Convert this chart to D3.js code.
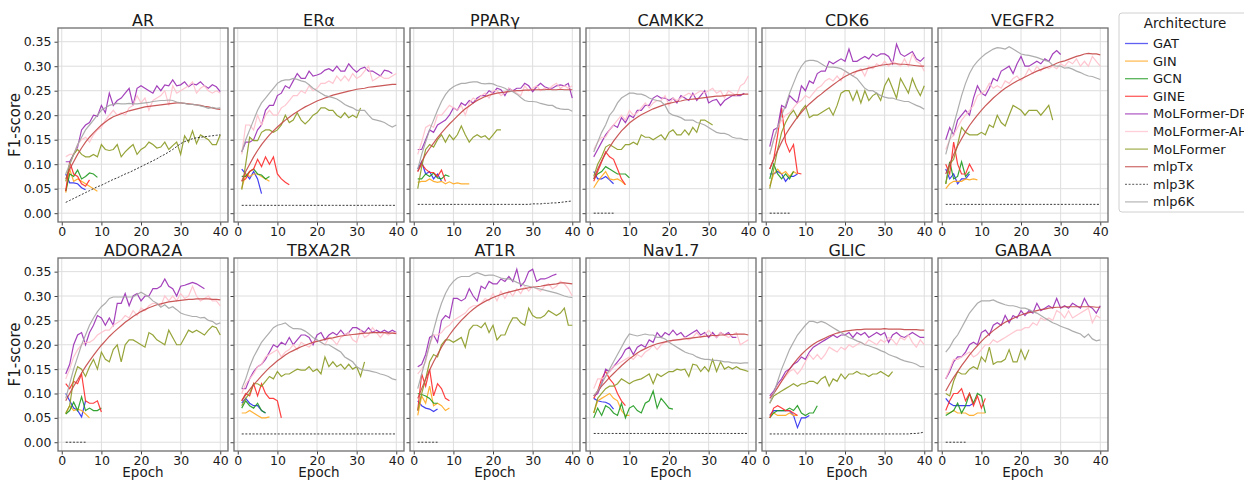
<!DOCTYPE html>
<html>
<head>
<meta charset="utf-8">
<script src="https://cdn.jsdelivr.net/npm/d3@7"></script>
<style>
  body { margin: 0; background: #fff; }
  text { font-family: "DejaVu Sans", sans-serif; fill: #1a1a1a; }
</style>
</head>
<body>
<div id="chart"></div>
<script>
// --------- DATA ---------
// one sub-array per target, values are F1-score per epoch starting at epoch 1

const targets = ["AR", "ERα", "PPARγ", "CAMKK2", "CDK6", "VEGFR2",
                 "ADORA2A", "TBXA2R", "AT1R", "Nav1.7", "GLIC", "GABAA"];
const architectures = ["GAT", "GIN", "GCN", "GINE", "MoLFormer-DR", "MoLFormer-AH",
                       "MoLFormer", "mlpTx", "mlp3K", "mlp6K"];
const xTicks = [0, 10, 20, 30, 40];
const yTicks = [0, 0.05, 0.10, 0.15, 0.20, 0.25, 0.30, 0.35];

const GAT = [
  [0.08,0.062,0.062,0.06,0.052,0.048],
  [0.09,0.08,0.07,0.085,0.07,0.04],
  [0.09,0.105,0.08,0.085,0.07,0.08,0.065],
  [0.085,0.07,0.07,0.075,0.068,0.06],
  [0.08,0.08,0.085,0.08,0.065,0.075,0.075,0.08],
  [0.09,0.07,0.08,0.06,0.07,0.07,0.08],
  [0.1,0.085,0.07,0.065,0.052,0.085],
  [0.08,0.09,0.08,0.075,0.075,0.065,0.06],
  [0.085,0.075,0.07,0.068,0.063,0.068],
  [0.09,0.085,0.083,0.082,0.078,0.068],
  [0.055,0.065,0.065,0.065,0.065,0.065,0.055,0.03,0.05,0.05,0.055],
  [0.09,0.08,0.075,0.075,0.075,0.075,0.075,0.08]
];

const GIN = [
  [0.042,0.09,0.065,0.07,0.065,0.06,0.055,0.05,0.045],
  [0.05,0.08,0.075,0.08,0.08,0.075,0.07,0.065],
  [0.063,0.065,0.065,0.07,0.065,0.063,0.065,0.06,0.064,0.06,0.062,0.06,0.06,0.06],
  [0.052,0.065,0.075,0.085,0.07,0.068,0.07,0.065,0.058],
  [0.055,0.08,0.09,0.08,0.085,0.075,0.085,0.08],
  [0.05,0.06,0.065,0.065,0.065,0.07,0.068,0.07,0.068],
  [0.058,0.075,0.065,0.068,0.065,0.058,0.05],
  [0.06,0.06,0.065,0.06,0.055,0.05,0.05,0.052],
  [0.055,0.095,0.08,0.115,0.075,0.08,0.075,0.065,0.07],
  [0.06,0.085,0.09,0.095,0.1,0.09,0.085,0.065,0.055,0.055],
  [0.055,0.06,0.055,0.055,0.055,0.06,0.055,0.055],
  [0.06,0.06,0.065,0.06,0.06,0.06,0.055,0.055,0.06,0.06,0.06]
];

const GCN = [
  [0.045,0.08,0.075,0.088,0.07,0.075,0.082,0.08,0.073],
  [0.075,0.075,0.085,0.09,0.08,0.078,0.07,0.075],
  [0.07,0.07,0.08,0.075,0.082,0.072,0.07,0.078,0.075],
  [0.07,0.08,0.085,0.095,0.09,0.085,0.08,0.08,0.08,0.072],
  [0.07,0.1,0.08,0.07,0.08,0.07,0.085],
  [0.06,0.105,0.07,0.075,0.105,0.075,0.085],
  [0.058,0.065,0.082,0.065,0.093,0.065,0.07,0.065,0.065,0.07],
  [0.07,0.085,0.075,0.07,0.08,0.065,0.06],
  [0.1,0.098,0.095,0.09,0.08,0.08],
  [0.05,0.07,0.055,0.075,0.07,0.06,0.055,0.08,0.05,0.07,0.075,0.065,0.06,0.08,0.085,0.105,0.07,0.09,0.08,0.07,0.068],
  [0.05,0.06,0.065,0.065,0.065,0.07,0.065,0.075,0.06,0.055,0.06,0.06,0.075],
  [0.055,0.06,0.065,0.08,0.06,0.075,0.1,0.08,0.1,0.095,0.06]
];

const GINE = [
  [0.045,0.105,0.08,0.075,0.06,0.055,0.068],
  [0.065,0.07,0.085,0.09,0.11,0.095,0.115,0.1,0.115,0.08,0.07,0.063,0.058],
  [0.085,0.1,0.09,0.083,0.083,0.075,0.088,0.065],
  [0.065,0.085,0.105,0.125,0.115,0.11,0.09,0.07,0.058],
  [0.09,0.11,0.16,0.215,0.145,0.125,0.14,0.082,0.08],
  [0.1,0.08,0.145,0.1,0.08,0.08,0.1,0.085],
  [0.12,0.11,0.125,0.12,0.14,0.085,0.08,0.08,0.085,0.062],
  [0.085,0.1,0.095,0.12,0.095,0.12,0.1,0.09,0.09,0.085,0.05],
  [0.065,0.14,0.115,0.15,0.095,0.12,0.11,0.09,0.085],
  [0.09,0.105,0.13,0.145,0.13,0.12,0.1,0.085,0.075],
  [0.05,0.07,0.075,0.07,0.065,0.065,0.06,0.055],
  [0.065,0.085,0.1,0.1,0.11,0.085,0.1,0.075,0.095,0.07,0.09]
];

const molDR = [
  [0.105,0.105,0.12,0.135,0.17,0.18,0.185,0.2,0.198,0.22,0.205,0.245,0.22,0.23,0.235,0.245,0.255,0.22,0.255,0.26,
   0.255,0.25,0.245,0.26,0.25,0.262,0.26,0.272,0.26,0.262,0.268,0.258,0.264,0.262,0.268,0.26,0.255,0.262,0.258,0.248],
  [0.125,0.145,0.145,0.15,0.17,0.18,0.21,0.22,0.22,0.24,0.245,0.26,0.255,0.27,0.285,0.275,0.275,0.29,0.28,0.282,
   0.285,0.292,0.295,0.29,0.3,0.29,0.29,0.305,0.295,0.288,0.295,0.298,0.29,0.29,0.285,0.28,0.292,0.29,0.285],
  [0.13,0.13,0.15,0.17,0.165,0.18,0.185,0.19,0.2,0.215,0.21,0.225,0.22,0.23,0.225,0.235,0.24,0.24,0.25,0.245,
   0.255,0.252,0.24,0.255,0.25,0.255,0.255,0.265,0.26,0.248,0.258,0.265,0.258,0.255,0.255,0.26,0.262,0.26,0.265,0.235],
  [0.115,0.13,0.145,0.16,0.17,0.18,0.175,0.195,0.185,0.2,0.195,0.21,0.21,0.22,0.22,0.235,0.24,0.235,0.235,0.23,
   0.235,0.225,0.24,0.235,0.23,0.245,0.23,0.24,0.25,0.225,0.23,0.232,0.22,0.23,0.235,0.24,0.24,0.24,0.245],
  [0.136,0.17,0.175,0.22,0.215,0.24,0.232,0.225,0.26,0.25,0.27,0.265,0.285,0.29,0.29,0.31,0.305,0.31,0.315,0.31,
   0.335,0.31,0.31,0.315,0.32,0.315,0.325,0.32,0.325,0.325,0.32,0.305,0.345,0.325,0.32,0.325,0.33,0.315,0.31,0.318],
  [0.15,0.175,0.16,0.19,0.2,0.21,0.2,0.235,0.26,0.245,0.24,0.255,0.275,0.27,0.29,0.295,0.3,0.285,0.305,0.32,
   0.3,0.3,0.305,0.31,0.305,0.315,0.31,0.325,0.332,0.324],
  [0.14,0.16,0.2,0.22,0.225,0.2,0.225,0.24,0.26,0.255,0.24,0.255,0.24,0.285,0.285,0.305,0.28,0.3,0.305,0.29,
   0.3,0.3,0.315,0.315,0.32,0.335,0.32,0.315,0.3,0.32,0.322,0.325,0.328,0.325,0.32,0.315],
  [0.11,0.11,0.13,0.145,0.155,0.16,0.17,0.185,0.2,0.195,0.205,0.2,0.215,0.2,0.21,0.22,0.22,0.215,0.2,0.22,
   0.225,0.21,0.22,0.225,0.22,0.23,0.22,0.225,0.235,0.235,0.23,0.225,0.235,0.225,0.23,0.225,0.23,0.225,0.23,0.225],
  [0.155,0.16,0.18,0.215,0.22,0.205,0.25,0.26,0.255,0.295,0.295,0.29,0.295,0.315,0.3,0.29,0.32,0.315,0.33,0.325,
   0.325,0.335,0.33,0.34,0.33,0.355,0.32,0.33,0.35,0.355,0.33,0.335,0.335,0.338,0.342,0.345],
  [0.095,0.1,0.12,0.15,0.145,0.155,0.165,0.175,0.19,0.195,0.18,0.195,0.2,0.195,0.21,0.205,0.225,0.215,0.225,0.22,
   0.23,0.22,0.225,0.215,0.22,0.225,0.23,0.22,0.225,0.215,0.225,0.215,0.225,0.22,0.225,0.215,0.215],
  [0.095,0.105,0.12,0.13,0.145,0.15,0.16,0.165,0.175,0.17,0.185,0.195,0.2,0.205,0.21,0.215,0.22,0.215,0.22,0.22,
   0.225,0.215,0.225,0.22,0.225,0.215,0.22,0.225,0.22,0.225,0.205,0.22,0.225,0.218,0.215,0.22,0.225,0.22,0.215,0.215],
  [0.13,0.145,0.165,0.175,0.175,0.185,0.2,0.205,0.2,0.225,0.23,0.22,0.24,0.245,0.24,0.26,0.245,0.26,0.255,0.27,
   0.26,0.27,0.265,0.285,0.27,0.275,0.28,0.275,0.295,0.275,0.28,0.275,0.285,0.28,0.275,0.295,0.28,0.275,0.265,0.28]
];

const molAH = [
  [0.115,0.12,0.12,0.14,0.15,0.155,0.145,0.16,0.17,0.175,0.19,0.2,0.21,0.2,0.205,0.2,0.215,0.22,0.24,0.225,
   0.235,0.21,0.23,0.235,0.24,0.25,0.22,0.26,0.245,0.25,0.255,0.26,0.268,0.245,0.255,0.26,0.25,0.245,0.25,0.245],
  [0.12,0.18,0.18,0.17,0.2,0.18,0.2,0.21,0.2,0.2,0.215,0.22,0.23,0.24,0.24,0.25,0.245,0.26,0.25,0.255,
   0.265,0.265,0.27,0.265,0.28,0.27,0.28,0.27,0.285,0.275,0.28,0.29,0.3,0.27,0.275,0.28,0.275,0.275,0.28,0.285],
  [0.12,0.145,0.175,0.18,0.175,0.2,0.2,0.21,0.22,0.215,0.21,0.22,0.2,0.225,0.235,0.23,0.24,0.245,0.235,0.25,
   0.25,0.24,0.245,0.255,0.25,0.245,0.24,0.26,0.25,0.255,0.26,0.25,0.255,0.252,0.26,0.265,0.255,0.26,0.255,0.26],
  [0.13,0.145,0.155,0.155,0.17,0.18,0.19,0.2,0.19,0.21,0.2,0.205,0.215,0.225,0.215,0.225,0.23,0.23,0.24,0.22,
   0.235,0.23,0.235,0.24,0.245,0.24,0.245,0.25,0.245,0.25,0.255,0.245,0.25,0.235,0.25,0.245,0.24,0.26,0.265,0.28],
  [0.12,0.15,0.175,0.19,0.2,0.205,0.215,0.225,0.23,0.24,0.235,0.245,0.255,0.26,0.27,0.275,0.27,0.28,0.27,0.29,
   0.285,0.28,0.29,0.295,0.28,0.3,0.295,0.305,0.3,0.31,0.3,0.31,0.305,0.3,0.315,0.3,0.325,0.31,0.305,0.29],
  [0.13,0.15,0.16,0.175,0.19,0.2,0.21,0.22,0.24,0.245,0.25,0.265,0.255,0.26,0.255,0.27,0.265,0.275,0.28,0.27,
   0.28,0.295,0.285,0.3,0.29,0.3,0.295,0.3,0.295,0.305,0.3,0.31,0.305,0.315,0.3,0.31,0.3,0.32,0.31,0.3],
  [0.13,0.15,0.175,0.19,0.2,0.205,0.205,0.21,0.22,0.225,0.23,0.23,0.24,0.245,0.25,0.26,0.255,0.27,0.26,0.275,
   0.27,0.28,0.285,0.285,0.28,0.3,0.29,0.3,0.29,0.305,0.295,0.3,0.32,0.3,0.29,0.295,0.3,0.29,0.29,0.28],
  [0.1,0.12,0.13,0.14,0.155,0.16,0.175,0.18,0.185,0.19,0.175,0.185,0.19,0.2,0.19,0.205,0.2,0.195,0.205,0.21,
   0.205,0.2,0.215,0.21,0.2,0.215,0.22,0.225,0.21,0.205,0.23,0.215,0.22,0.235,0.225,0.215,0.225,0.22,0.225,0.225],
  [0.14,0.15,0.165,0.2,0.22,0.22,0.225,0.235,0.24,0.25,0.255,0.26,0.265,0.275,0.28,0.28,0.285,0.295,0.29,0.305,
   0.29,0.31,0.295,0.31,0.3,0.315,0.305,0.32,0.31,0.32,0.315,0.31,0.32,0.325,0.315,0.32,0.33,0.325,0.315,0.3],
  [0.11,0.13,0.13,0.135,0.145,0.155,0.16,0.165,0.17,0.175,0.17,0.18,0.175,0.185,0.19,0.2,0.19,0.2,0.205,0.205,
   0.21,0.21,0.21,0.215,0.21,0.215,0.225,0.215,0.22,0.23,0.22,0.215,0.225,0.22,0.215,0.22,0.225,0.2,0.205,0.21],
  [0.09,0.1,0.115,0.125,0.135,0.145,0.15,0.14,0.15,0.165,0.18,0.17,0.18,0.17,0.18,0.195,0.19,0.185,0.195,0.19,
   0.2,0.195,0.2,0.205,0.2,0.21,0.205,0.2,0.21,0.205,0.215,0.21,0.2,0.215,0.21,0.22,0.205,0.195,0.21,0.2],
  [0.13,0.15,0.17,0.17,0.175,0.18,0.185,0.175,0.18,0.19,0.2,0.2,0.21,0.205,0.21,0.215,0.22,0.225,0.23,0.23,
   0.235,0.235,0.245,0.24,0.255,0.25,0.255,0.25,0.27,0.265,0.255,0.27,0.255,0.26,0.265,0.27,0.275,0.245,0.26,0.255]
];

const molFormer = [
  [0.065,0.1,0.12,0.13,0.12,0.115,0.115,0.12,0.115,0.14,0.13,0.128,0.13,0.14,0.115,0.125,0.133,0.14,0.12,0.13,
   0.135,0.145,0.14,0.133,0.135,0.145,0.13,0.138,0.145,0.12,0.158,0.145,0.168,0.142,0.16,0.155,0.15,0.14,0.14,0.16],
  [0.048,0.1,0.155,0.148,0.148,0.165,0.17,0.17,0.165,0.17,0.18,0.2,0.185,0.19,0.205,0.19,0.182,0.19,0.2,0.205,
   0.215,0.215,0.21,0.21,0.2,0.195,0.205,0.195,0.2,0.195,0.215],
  [0.05,0.095,0.13,0.14,0.135,0.15,0.16,0.145,0.16,0.15,0.16,0.178,0.16,0.145,0.155,0.16,0.155,0.158,0.15,0.16,
   0.17,0.17],
  [0.075,0.1,0.115,0.135,0.14,0.135,0.13,0.13,0.14,0.14,0.145,0.14,0.16,0.155,0.155,0.15,0.155,0.16,0.15,0.165,
   0.17,0.16,0.16,0.17,0.16,0.175,0.165,0.19,0.19,0.185,0.18],
  [0.05,0.09,0.13,0.165,0.185,0.2,0.21,0.195,0.21,0.22,0.195,0.2,0.2,0.205,0.21,0.215,0.2,0.22,0.245,0.25,
   0.25,0.23,0.25,0.225,0.25,0.23,0.24,0.245,0.23,0.26,0.275,0.255,0.235,0.275,0.26,0.245,0.275,0.255,0.24,0.26],
  [0.06,0.1,0.11,0.14,0.175,0.165,0.16,0.16,0.16,0.165,0.16,0.18,0.175,0.2,0.185,0.178,0.2,0.22,0.215,0.21,
   0.2,0.21,0.21,0.21,0.2,0.21,0.22,0.19],
  [0.06,0.075,0.13,0.155,0.15,0.135,0.155,0.17,0.15,0.185,0.17,0.165,0.19,0.2,0.165,0.2,0.21,0.21,0.205,0.2,
   0.195,0.225,0.22,0.21,0.205,0.2,0.23,0.215,0.2,0.2,0.215,0.23,0.225,0.23,0.225,0.22,0.23,0.238,0.235,0.22],
  [0.075,0.09,0.1,0.12,0.12,0.115,0.125,0.135,0.13,0.145,0.135,0.14,0.14,0.145,0.15,0.148,0.148,0.155,0.145,0.15,
   0.14,0.175,0.155,0.165,0.155,0.16,0.15,0.16,0.15,0.155,0.135,0.165],
  [0.065,0.1,0.13,0.165,0.18,0.175,0.2,0.21,0.21,0.205,0.21,0.215,0.195,0.23,0.24,0.24,0.235,0.245,0.225,0.24,
   0.21,0.22,0.22,0.24,0.255,0.255,0.245,0.24,0.275,0.26,0.255,0.255,0.26,0.27,0.265,0.26,0.265,0.275,0.24,0.24],
  [0.06,0.09,0.1,0.11,0.115,0.115,0.12,0.13,0.125,0.12,0.125,0.128,0.13,0.135,0.14,0.12,0.14,0.135,0.14,0.145,
   0.145,0.15,0.148,0.15,0.135,0.16,0.158,0.145,0.155,0.145,0.17,0.145,0.165,0.15,0.155,0.15,0.155,0.15,0.148,0.145],
  [0.08,0.095,0.1,0.105,0.11,0.115,0.12,0.115,0.12,0.12,0.125,0.125,0.12,0.13,0.135,0.115,0.13,0.125,0.14,0.13,
   0.14,0.14,0.145,0.14,0.14,0.135,0.14,0.14,0.145,0.14,0.135,0.145],
  [0.1,0.095,0.125,0.145,0.14,0.14,0.15,0.155,0.15,0.175,0.165,0.195,0.16,0.165,0.165,0.17,0.19,0.165,0.165,0.19,
   0.17,0.19]
];

const mlpTx = [
  [0.07,0.09,0.105,0.12,0.133,0.145,0.155,0.164,0.172,0.18,0.186,0.192,0.197,0.2,0.203,0.206,0.209,0.211,0.213,0.215,
   0.217,0.218,0.219,0.22,0.221,0.222,0.223,0.224,0.225,0.225,0.224,0.223,0.222,0.221,0.22,0.218,0.217,0.215,0.213,0.212],
  [0.065,0.085,0.1,0.115,0.128,0.14,0.15,0.16,0.168,0.176,0.183,0.19,0.196,0.202,0.207,0.212,0.217,0.221,0.225,0.229,
   0.232,0.235,0.238,0.241,0.243,0.245,0.247,0.249,0.251,0.253,0.254,0.255,0.257,0.258,0.259,0.26,0.261,0.262,0.263,0.263],
  [0.085,0.105,0.12,0.132,0.143,0.154,0.164,0.173,0.182,0.19,0.198,0.206,0.213,0.219,0.225,0.23,0.234,0.238,0.241,0.243,
   0.245,0.246,0.247,0.248,0.249,0.25,0.25,0.251,0.251,0.252,0.252,0.252,0.252,0.253,0.252,0.252,0.253,0.252,0.252,0.252],
  [0.07,0.09,0.107,0.122,0.135,0.147,0.158,0.168,0.176,0.184,0.19,0.196,0.201,0.205,0.209,0.213,0.216,0.219,0.222,0.224,
   0.226,0.228,0.229,0.231,0.232,0.233,0.234,0.235,0.236,0.237,0.238,0.239,0.239,0.24,0.241,0.241,0.242,0.242,0.243,0.243],
  [0.09,0.11,0.128,0.145,0.16,0.173,0.185,0.196,0.206,0.215,0.223,0.23,0.237,0.243,0.25,0.256,0.262,0.268,0.274,0.279,
   0.283,0.287,0.29,0.292,0.294,0.296,0.298,0.3,0.302,0.303,0.304,0.305,0.305,0.304,0.304,0.303,0.302,0.301,0.3,0.3],
  [0.08,0.1,0.12,0.137,0.152,0.166,0.179,0.19,0.2,0.21,0.219,0.227,0.235,0.242,0.249,0.255,0.26,0.265,0.27,0.274,
   0.278,0.282,0.286,0.29,0.293,0.296,0.299,0.302,0.306,0.309,0.311,0.314,0.317,0.32,0.322,0.325,0.326,0.325,0.325,0.323],
  [0.085,0.1,0.115,0.128,0.142,0.155,0.167,0.178,0.189,0.199,0.208,0.217,0.225,0.232,0.239,0.246,0.252,0.258,0.263,0.268,
   0.272,0.276,0.279,0.282,0.284,0.286,0.288,0.289,0.29,0.291,0.292,0.293,0.293,0.294,0.294,0.294,0.294,0.293,0.293,0.292],
  [0.085,0.097,0.108,0.118,0.127,0.136,0.145,0.153,0.16,0.167,0.173,0.179,0.184,0.188,0.192,0.196,0.199,0.202,0.205,0.207,
   0.209,0.211,0.213,0.214,0.216,0.218,0.219,0.22,0.221,0.222,0.223,0.224,0.224,0.225,0.225,0.225,0.225,0.224,0.224,0.223],
  [0.09,0.11,0.13,0.148,0.165,0.18,0.195,0.208,0.22,0.231,0.241,0.25,0.258,0.266,0.273,0.279,0.284,0.289,0.293,0.297,
   0.3,0.303,0.306,0.308,0.31,0.312,0.314,0.315,0.317,0.318,0.319,0.32,0.322,0.323,0.324,0.325,0.327,0.327,0.326,0.325],
  [0.095,0.105,0.115,0.124,0.133,0.141,0.149,0.157,0.164,0.171,0.177,0.183,0.188,0.192,0.196,0.199,0.202,0.204,0.206,0.208,
   0.209,0.21,0.211,0.212,0.213,0.214,0.215,0.216,0.217,0.218,0.219,0.219,0.22,0.22,0.221,0.221,0.222,0.222,0.222,0.22],
  [0.09,0.1,0.112,0.125,0.138,0.15,0.161,0.171,0.18,0.188,0.195,0.201,0.206,0.21,0.214,0.218,0.221,0.224,0.226,0.228,
   0.229,0.23,0.231,0.231,0.232,0.232,0.232,0.232,0.232,0.233,0.232,0.232,0.232,0.232,0.231,0.231,0.231,0.231,0.23,0.23],
  [0.105,0.12,0.133,0.145,0.157,0.168,0.179,0.189,0.198,0.207,0.215,0.222,0.229,0.235,0.241,0.246,0.25,0.254,0.258,0.261,
   0.264,0.266,0.268,0.27,0.272,0.273,0.275,0.276,0.277,0.277,0.278,0.278,0.278,0.278,0.278,0.278,0.278,0.278,0.277,0.277]
];

const mlp3K = [
  [0.022,0.026,0.03,0.034,0.038,0.042,0.046,0.05,0.054,0.057,0.061,0.065,0.069,0.072,0.076,0.08,0.083,0.087,0.091,0.095,
   0.099,0.103,0.107,0.111,0.116,0.12,0.125,0.13,0.136,0.142,0.146,0.149,0.152,0.154,0.155,0.156,0.157,0.158,0.159,0.16],
  [0.016,0.016,0.016,0.016,0.016,0.016,0.016,0.016,0.016,0.016,0.016,0.016,0.016,0.016,0.016,0.016,0.016,0.016,0.016,0.016,
   0.016,0.016,0.016,0.016,0.016,0.016,0.016,0.016,0.016,0.016,0.016,0.016,0.016,0.016,0.016,0.016,0.016,0.016,0.016,0.016],
  [0.018,0.018,0.018,0.018,0.018,0.018,0.018,0.018,0.018,0.018,0.018,0.018,0.018,0.018,0.018,0.018,0.018,0.018,0.018,0.018,
   0.018,0.018,0.018,0.018,0.018,0.018,0.018,0.018,0.018,0.019,0.019,0.019,0.02,0.02,0.021,0.021,0.022,0.023,0.024,0.025],
  [0,0,0,0,0,0],
  [0,0,0,0,0,0],
  [0.018,0.018,0.018,0.018,0.018,0.018,0.018,0.018,0.018,0.018,0.018,0.018,0.018,0.018,0.018,0.018,0.018,0.018,0.018,0.018,
   0.018,0.018,0.018,0.018,0.018,0.018,0.018,0.018,0.018,0.018,0.018,0.018,0.018,0.018,0.018,0.018,0.018,0.018,0.018,0.018],
  [0,0,0,0,0,0],
  [0.017,0.017,0.017,0.017,0.017,0.017,0.017,0.017,0.017,0.017,0.017,0.017,0.017,0.017,0.017,0.017,0.017,0.017,0.017,0.017,
   0.017,0.017,0.017,0.017,0.017,0.017,0.017,0.017,0.017,0.017,0.017,0.017,0.017,0.017,0.017,0.017,0.017,0.017,0.017,0.017],
  [0,0,0,0,0,0],
  [0.018,0.018,0.018,0.018,0.018,0.018,0.018,0.018,0.018,0.018,0.018,0.018,0.018,0.018,0.018,0.018,0.018,0.018,0.018,0.018,
   0.018,0.018,0.018,0.018,0.018,0.018,0.018,0.018,0.018,0.018,0.018,0.018,0.018,0.018,0.018,0.018,0.018,0.018,0.018,0.018],
  [0.017,0.017,0.017,0.017,0.017,0.017,0.017,0.017,0.017,0.017,0.017,0.017,0.017,0.017,0.017,0.017,0.017,0.017,0.017,0.017,
   0.017,0.017,0.017,0.017,0.017,0.017,0.017,0.017,0.017,0.017,0.017,0.017,0.017,0.017,0.017,0.017,0.018,0.018,0.019,0.021],
  [0,0,0,0,0,0]
];

const mlp6K = [
  [0.08,0.1,0.12,0.14,0.155,0.17,0.18,0.19,0.2,0.21,0.215,0.22,0.222,0.224,0.223,0.223,0.224,0.223,0.223,0.224,
   0.225,0.226,0.228,0.229,0.23,0.23,0.231,0.23,0.227,0.225,0.224,0.222,0.222,0.221,0.219,0.217,0.214,0.216,0.214,0.215],
  [0.125,0.15,0.17,0.19,0.21,0.225,0.235,0.245,0.255,0.265,0.27,0.272,0.272,0.275,0.273,0.27,0.268,0.262,0.255,0.25,
   0.245,0.24,0.238,0.236,0.233,0.228,0.222,0.218,0.215,0.21,0.21,0.21,0.2,0.192,0.19,0.188,0.185,0.18,0.176,0.18],
  [0.09,0.12,0.145,0.17,0.19,0.21,0.228,0.242,0.252,0.258,0.262,0.265,0.265,0.267,0.268,0.268,0.265,0.264,0.265,0.264,
   0.26,0.258,0.255,0.25,0.248,0.243,0.236,0.23,0.228,0.228,0.227,0.224,0.222,0.22,0.22,0.215,0.213,0.212,0.212,0.208],
  [0.125,0.145,0.165,0.18,0.2,0.21,0.225,0.235,0.24,0.245,0.245,0.243,0.243,0.24,0.235,0.232,0.23,0.228,0.22,0.205,
   0.2,0.198,0.195,0.19,0.19,0.19,0.185,0.183,0.18,0.175,0.17,0.165,0.163,0.163,0.16,0.155,0.153,0.153,0.15,0.15],
  [0.12,0.15,0.175,0.2,0.22,0.245,0.265,0.285,0.3,0.31,0.312,0.312,0.31,0.305,0.3,0.298,0.298,0.297,0.295,0.29,
   0.285,0.28,0.275,0.265,0.255,0.25,0.25,0.245,0.24,0.237,0.235,0.235,0.232,0.23,0.228,0.228,0.224,0.22,0.217,0.212],
  [0.12,0.15,0.18,0.21,0.24,0.265,0.285,0.3,0.31,0.318,0.325,0.33,0.335,0.338,0.337,0.335,0.34,0.335,0.33,0.325,
   0.323,0.322,0.32,0.318,0.315,0.312,0.31,0.302,0.3,0.3,0.296,0.297,0.294,0.29,0.287,0.283,0.28,0.279,0.276,0.273],
  [0.09,0.12,0.15,0.175,0.2,0.22,0.24,0.255,0.268,0.278,0.285,0.295,0.298,0.298,0.298,0.298,0.298,0.298,0.303,0.308,
   0.303,0.298,0.29,0.285,0.277,0.282,0.275,0.278,0.272,0.265,0.262,0.26,0.258,0.258,0.255,0.256,0.25,0.248,0.242,0.245],
  [0.11,0.13,0.155,0.175,0.19,0.205,0.215,0.225,0.235,0.24,0.242,0.245,0.238,0.233,0.233,0.232,0.228,0.222,0.215,0.21,
   0.205,0.2,0.2,0.195,0.19,0.185,0.175,0.17,0.165,0.155,0.15,0.148,0.147,0.145,0.143,0.14,0.138,0.135,0.13,0.128],
  [0.11,0.14,0.17,0.2,0.23,0.26,0.285,0.305,0.32,0.33,0.337,0.34,0.34,0.34,0.345,0.348,0.345,0.342,0.343,0.343,
   0.34,0.337,0.335,0.335,0.332,0.328,0.325,0.322,0.32,0.318,0.316,0.314,0.312,0.31,0.308,0.306,0.303,0.3,0.298,0.297],
  [0.095,0.105,0.12,0.135,0.15,0.165,0.18,0.195,0.21,0.222,0.22,0.218,0.22,0.222,0.22,0.22,0.215,0.215,0.212,0.205,
   0.2,0.195,0.19,0.185,0.182,0.18,0.175,0.172,0.17,0.17,0.168,0.168,0.167,0.165,0.165,0.163,0.163,0.162,0.163,0.163],
  [0.08,0.1,0.125,0.15,0.17,0.19,0.205,0.22,0.23,0.24,0.248,0.248,0.245,0.248,0.245,0.24,0.235,0.23,0.225,0.22,
   0.215,0.212,0.208,0.205,0.2,0.198,0.195,0.192,0.188,0.185,0.18,0.177,0.174,0.17,0.167,0.165,0.163,0.16,0.155,0.155],
  [0.185,0.195,0.21,0.22,0.235,0.25,0.265,0.275,0.285,0.29,0.29,0.29,0.292,0.288,0.285,0.282,0.28,0.28,0.278,0.275,
   0.275,0.272,0.268,0.265,0.26,0.255,0.25,0.245,0.242,0.238,0.235,0.232,0.228,0.225,0.222,0.215,0.222,0.212,0.208,0.21]
];

const seriesData = [GAT, GIN, GCN, GINE, molDR, molAH, molFormer, mlpTx, mlp3K, mlp6K];
const colors = ["#2b2bf0", "#ffa820", "#1f9a1f", "#ff2a2a", "#9a2eb4", "#ffc0cb",
                "#8c9a24", "#c44646", "#222222", "#a4a4a4"];

// --------- LAYOUT ---------
const width = 1244, height = 480;
const panel = {w: 170, step: 176, left: 58, tops: [28, 258], heights: [194, 193]};

const svg = d3.select("#chart").append("svg")
    .attr("width", width)
    .attr("height", height);

const xScale = d3.scaleLinear().domain([-0.95, 41.95]).range([0, panel.w]);

targets.forEach((name, t) => {
    let row = Math.floor(t / 6), col = t % 6;
    let ph = panel.heights[row];
    let yScale = d3.scaleLinear().domain([-0.018, 0.378]).range([ph, 0]);

    let g = svg.append("g")
        .attr("transform", "translate(" + (panel.left + col * panel.step) + "," + panel.tops[row] + ")");

    // gridlines
    g.append("g").selectAll("line").data(yTicks).join("line")
        .attr("x1", 0).attr("x2", panel.w)
        .attr("y1", d => yScale(d)).attr("y2", d => yScale(d))
        .attr("stroke", "#dedede").attr("stroke-width", 1);
    g.append("g").selectAll("line").data(xTicks).join("line")
        .attr("y1", 0).attr("y2", ph)
        .attr("x1", d => xScale(d)).attr("x2", d => xScale(d))
        .attr("stroke", "#dedede").attr("stroke-width", 1);

    // axes
    let xAxis = d3.axisBottom(xScale).tickValues(xTicks).tickSize(3.5).tickPadding(2);
    let gx = g.append("g").attr("transform", "translate(0," + ph + ")").call(xAxis);
    gx.select(".domain").remove();
    gx.selectAll("line").attr("stroke", "#444");
    gx.selectAll("text").attr("font-size", "12.5px").attr("fill", "#1a1a1a");

    let yAxis = d3.axisLeft(yScale).tickValues(yTicks).tickSize(3.5).tickPadding(3)
        .tickFormat(col === 0 ? d3.format(".2f") : "");
    let gy = g.append("g").call(yAxis);
    gy.select(".domain").remove();
    gy.selectAll("line").attr("stroke", "#444");
    gy.selectAll("text").attr("font-size", "12.5px").attr("fill", "#1a1a1a");

    // lines
    let line = d3.line()
        .x((d, i) => xScale(i + 1))
        .y(d => yScale(d));

    seriesData.forEach((arch, a) => {
        let dashed = architectures[a] === "mlp3K";
        g.append("path")
            .attr("fill", "none")
            .attr("stroke", colors[a])
            .attr("stroke-width", dashed ? 1 : 1.2)
            .attr("stroke-opacity", 0.9)
            .attr("stroke-dasharray", dashed ? "2,1.6" : null)
            .attr("d", line(arch[t]));
    });

    // frame
    g.append("rect")
        .attr("width", panel.w).attr("height", ph)
        .attr("fill", "none").attr("stroke", "#6e6e6e").attr("stroke-width", 1.3);

    // title
    g.append("text")
        .attr("x", panel.w / 2).attr("y", -2.5)
        .attr("text-anchor", "middle")
        .attr("font-size", "16px")
        .text(name);

    if (col === 0) {
        g.append("text")
            .attr("transform", "translate(-38," + (ph / 2) + ") rotate(-90)")
            .attr("text-anchor", "middle")
            .attr("font-size", "15px")
            .text("F1-score");
    }
    if (row === 1) {
        g.append("text")
            .attr("x", panel.w / 2).attr("y", ph + 26)
            .attr("text-anchor", "middle")
            .attr("font-size", "13.5px")
            .text("Epoch");
    }
});

// Legend
let legend = svg.append("g").attr("transform", "translate(1119,13)");
legend.append("rect")
    .attr("width", 140).attr("height", 199).attr("rx", 3)
    .attr("fill", "#fff").attr("stroke", "#d0d0d0");
legend.append("text")
    .attr("x", 66).attr("y", 15)
    .attr("text-anchor", "middle")
    .attr("font-size", "13.5px")
    .text("Architecture");
architectures.forEach((name, a) => {
    let y = 30.5 + a * 17.6;
    let dashed = name === "mlp3K";
    legend.append("line")
        .attr("x1", 6).attr("x2", 29).attr("y1", y).attr("y2", y)
        .attr("stroke", colors[a])
        .attr("stroke-width", dashed ? 1 : 1.3)
        .attr("stroke-opacity", 0.75)
        .attr("stroke-dasharray", dashed ? "2,1.6" : null);
    legend.append("text")
        .attr("x", 34).attr("y", y)
        .attr("dy", "0.35em")
        .attr("font-size", "13px")
        .text(name);
});
</script>
</body>
</html>
